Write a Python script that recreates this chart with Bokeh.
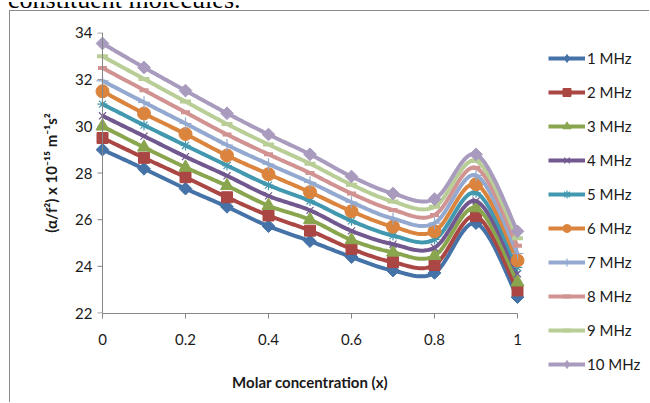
import numpy as np
from bokeh.plotting import figure
from bokeh.layouts import row, column
from bokeh.models import (ColumnDataSource, Range1d, FixedTicker, Legend, LegendItem, Span, Div)
from bokeh.embed import file_html
from bokeh.resources import INLINE

# ---------------- data ----------------
x_conc = [0.0, 0.1, 0.2, 0.3, 0.4, 0.5, 0.6, 0.7, 0.8, 0.9, 1.0]

series_names = ["1 MHz", "2 MHz", "3 MHz", "4 MHz", "5 MHz",
                "6 MHz", "7 MHz", "8 MHz", "9 MHz", "10 MHz"]

f01 = [29.00, 28.18, 27.33, 26.55, 25.72, 25.08, 24.40, 23.82, 23.72, 25.85, 22.68]
f02 = [29.50, 28.65, 27.82, 26.96, 26.18, 25.53, 24.75, 24.18, 24.06, 26.15, 22.97]
f03 = [30.00, 29.10, 28.24, 27.45, 26.60, 26.00, 25.13, 24.60, 24.45, 26.50, 23.32]
f04 = [30.45, 29.58, 28.70, 27.88, 27.02, 26.40, 25.52, 24.95, 24.80, 26.80, 23.68]
f05 = [30.95, 30.05, 29.18, 28.32, 27.48, 26.80, 25.95, 25.32, 25.15, 27.15, 23.95]
f06 = [31.50, 30.55, 29.67, 28.75, 27.95, 27.18, 26.36, 25.70, 25.50, 27.52, 24.25]
f07 = [31.95, 31.03, 30.12, 29.20, 28.38, 27.60, 26.75, 26.05, 25.85, 27.90, 24.55]
f08 = [32.50, 31.55, 30.60, 29.65, 28.80, 28.00, 27.12, 26.42, 26.20, 28.22, 24.88]
f09 = [33.00, 32.03, 31.06, 30.10, 29.22, 28.40, 27.50, 26.78, 26.55, 28.52, 25.20]
f10 = [33.55, 32.52, 31.53, 30.56, 29.65, 28.80, 27.85, 27.12, 26.88, 28.80, 25.50]

series_values = [f01, f02, f03, f04, f05, f06, f07, f08, f09, f10]

x_ticks = [0, 0.2, 0.4, 0.6, 0.8, 1]
x_tick_labels = ["0", "0.2", "0.4", "0.6", "0.8", "1"]
y_ticks = [22, 24, 26, 28, 30, 32, 34]

page_text = "constituent molecules."

# ---------------- styles ----------------
colors = ["#4572A7", "#AA4643", "#89A54E", "#71588F", "#4198AF",
          "#DB843D", "#93A9CF", "#D19392", "#B9CD96", "#A99BBD"]
markers = ["square", "square", "triangle", "x", "asterisk",
           "circle", "cross", "dash", "dash", "square"]
legend_markers = ["diamond", "square", "triangle", "x", "asterisk",
                  "circle", "cross", "dash", "dash", "diamond"]
angles = [np.pi / 4, 0, 0, 0, 0, 0, 0, 0, 0, np.pi / 4]
sizes = [9, 11, 13, 10, 10, 13, 12, 9, 11, 9]
legend_sizes = [13, 11, 12, 10, 10, 13, 12, 9, 11, 13]
mk_lw = [1, 1, 1, 1.2, 1.2, 1, 1.2, 4, 4, 1]

FONT = "Lato"
AX = "#868686"
TXT = "#1a1a1a"


def smooth(xs, ys, n=20):
    """Excel-like smoothed line: cubic Bezier with Catmull-Rom tangents."""
    pts = np.column_stack([np.asarray(xs, float), np.asarray(ys, float)])
    P = np.vstack([pts[0], pts, pts[-1]])
    t = np.linspace(0, 1, n, endpoint=False)[:, None]
    segs = []
    for i in range(1, len(P) - 2):
        p0, p1, p2, p3 = P[i - 1], P[i], P[i + 1], P[i + 2]
        b1 = p1 + (p2 - p0) / 6.0
        b2 = p2 - (p3 - p1) / 6.0
        seg = ((1 - t) ** 3) * p1 + 3 * ((1 - t) ** 2) * t * b1 + 3 * (1 - t) * t ** 2 * b2 + t ** 3 * p2
        segs.append(seg)
    segs.append(pts[-1:])
    out = np.vstack(segs)
    return out[:, 0], out[:, 1]


H = 391
pad = 15 / 415.0
p = figure(width=530, height=H, output_backend="svg", toolbar_location=None,
           x_range=Range1d(-pad, 1 + pad), y_range=Range1d(21.98, 34.02),
           min_border_left=77, min_border_right=8, min_border_top=21,
           min_border_bottom=H - 21 - 281,
           x_axis_label="Molar concentration (x)",
           y_axis_label="(α/f²) x 10⁻¹⁵ m⁻¹s²")
p.outline_line_color = None
p.grid.visible = False
p.background_fill_color = "white"
p.border_fill_color = "white"

xa = p.xaxis[0]
xa.bounds = (0, 1)
xa.ticker = FixedTicker(ticks=x_ticks)
xa.major_label_overrides = dict(zip(x_ticks, x_tick_labels))
xa.axis_line_color = AX
xa.major_tick_line_color = AX
xa.major_tick_out = 5
xa.major_label_standoff = 15
xa.axis_label_standoff = 25

ya = p.yaxis[0]
ya.ticker = FixedTicker(ticks=y_ticks)
ya.axis_line_color = None
ya.major_tick_line_color = None
ya.major_tick_out = 0
ya.major_label_standoff = -5
ya.axis_label_standoff = 12

for ax in (xa, ya):
    ax.minor_tick_line_color = None
    ax.major_tick_in = 0
    ax.major_label_text_font = FONT
    ax.major_label_text_font_size = "15px"
    ax.major_label_text_color = TXT
    ax.axis_label_text_font = FONT
    ax.axis_label_text_font_size = "15px"
    ax.axis_label_text_font_style = "bold"
    ax.axis_label_text_color = TXT

# vertical axis line at x = 0 with outward ticks
p.add_layout(Span(location=0, dimension="height", line_color=AX, line_width=1))
p.ray(x=0, y=y_ticks, length=5, length_units="screen", angle=np.pi,
      line_color=AX, line_width=1)

for vals, c, m, a, s, lw in zip(series_values, colors, markers, angles, sizes, mk_lw):
    sx, sy = smooth(x_conc, vals)
    p.line(x="x", y="y", source=ColumnDataSource(dict(x=sx, y=sy)),
           line_color=c, line_width=4)
    p.scatter(x="x", y="y", source=ColumnDataSource(dict(x=x_conc, y=vals)),
              marker=m, size=s, angle=a, fill_color=c, line_color=c, line_width=lw)

# ---------------- legend panel ----------------
# (same series drawn again; this panel's y-range keeps them out of view,
#  only their legend entries are shown)
pl = figure(width=109, height=H, output_backend="svg", toolbar_location=None,
            x_range=Range1d(0, 1), y_range=Range1d(100, 101),
            x_axis_type=None, y_axis_type=None,
            min_border_left=0, min_border_right=0,
            min_border_top=29, min_border_bottom=0)
pl.outline_line_color = None
pl.grid.visible = False
pl.background_fill_color = "white"
pl.border_fill_color = "white"

items = []
for name, vals, c, m, s, lw in zip(series_names, series_values, colors, legend_markers, legend_sizes, mk_lw):
    lr = pl.line(x=x_conc, y=vals, line_color=c, line_width=4)
    sr = pl.scatter(x=x_conc, y=vals, marker=m, size=s,
                    fill_color=c, line_color=c, line_width=lw)
    items.append(LegendItem(label=name, renderers=[lr, sr]))

legend = Legend(items=items, location="top_left", orientation="vertical",
                glyph_width=37, glyph_height=20, label_height=20, spacing=14,
                padding=0, margin=8, label_standoff=2,
                label_text_font=FONT, label_text_font_size="15px", label_text_color=TXT,
                border_line_color=None, background_fill_alpha=0)
pl.add_layout(legend)

# text line of the surrounding page, cut by the top edge
top_text = Div(width=640, height=10, margin=(0, 0, 0, 0),
               text=('<div style="height:10px;overflow:hidden;">'
                     '<div style="margin-top:-15px;padding-left:8px;white-space:nowrap;'
                     'font-family:\'Liberation Serif\';font-size:26px;line-height:26px;color:#000;">'
                     + page_text + '</div></div>'))

chart = row(column(p), column(pl), spacing=0,
            styles={"margin-left": "9px",
                    "border-left": "1px solid #8c8c8c",
                    "border-top": "1px solid #8c8c8c"})

layout = column(top_text, chart, spacing=0)

open("out.html", "w").write(file_html(layout, INLINE))
